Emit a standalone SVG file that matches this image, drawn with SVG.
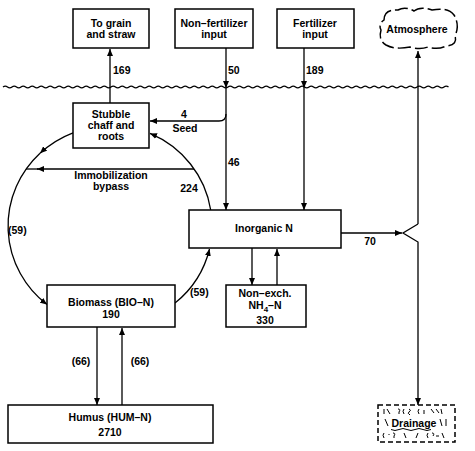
<svg xmlns="http://www.w3.org/2000/svg" width="475" height="451" viewBox="0 0 475 451">
<style>
text{font-family:"Liberation Sans",Arial,sans-serif;font-size:10.5px;font-weight:bold;fill:#000;text-anchor:middle}
.st{text-anchor:start}
.box{fill:#fff;stroke:#000;stroke-width:1.5}
.ln{fill:none;stroke:#000;stroke-width:1.3}
.ar{marker-end:url(#ah)}
.ds{fill:none;stroke:#000;stroke-width:1.5}
.mk{fill:none;stroke:#000;stroke-width:1}
</style>
<defs>
<marker id="ah" markerUnits="userSpaceOnUse" markerWidth="8" markerHeight="6" refX="7" refY="3" orient="auto">
<path d="M0,0 L7,3 L0,6 z" fill="#000"/>
</marker>
</defs>
<path id="ground" class="ln" stroke-width="1.2" d="M3 87 q2.25 -1.8 4.5 0 t4.5 0 t4.5 0 t4.5 0 t4.5 0 t4.5 0 t4.5 0 t4.5 0 t4.5 0 t4.5 0 t4.5 0 t4.5 0 t4.5 0 t4.5 0 t4.5 0 t4.5 0 t4.5 0 t4.5 0 t4.5 0 t4.5 0 t4.5 0 t4.5 0 t4.5 0 t4.5 0 t4.5 0 t4.5 0 t4.5 0 t4.5 0 t4.5 0 t4.5 0 t4.5 0 t4.5 0 t4.5 0 t4.5 0 t4.5 0 t4.5 0 t4.5 0 t4.5 0 t4.5 0 t4.5 0 t4.5 0 t4.5 0 t4.5 0 t4.5 0 t4.5 0 t4.5 0 t4.5 0 t4.5 0 t4.5 0 t4.5 0 t4.5 0 t4.5 0 t4.5 0 t4.5 0 t4.5 0 t4.5 0 t4.5 0 t4.5 0 t4.5 0 t4.5 0 t4.5 0 t4.5 0 t4.5 0 t4.5 0 t4.5 0 t4.5 0 t4.5 0 t4.5 0 t4.5 0 t4.5 0 t4.5 0 t4.5 0 t4.5 0 t4.5 0 t4.5 0 t4.5 0 t4.5 0 t4.5 0 t4.5 0 t4.5 0 t4.5 0 t4.5 0 t4.5 0 t4.5 0 t4.5 0 t4.5 0 t4.5 0 t4.5 0 t4.5 0 t4.5 0 t4.5 0 t4.5 0 t4.5 0 t4.5 0 t4.5 0 t4.5 0 t4.5 0 t4.5 0 t4.5 0"/>
<g id="connectors">
<path class="ln ar" d="M110 103 L110 49"/>
<path class="ln ar" d="M226 48 L226 88"/>
<path class="ln ar" d="M226 88 L226 210"/>
<path class="ln ar" d="M226 114 Q226 121 219 121 L150 121"/>
<path class="ln ar" d="M304 48 L304 88"/>
<path class="ln ar" d="M304 88 L304 210"/>
<path class="ln ar" d="M418 224 L418 51"/>
<path class="ln ar" d="M418 224 L403 233 L418 242 L418 405"/>
<path class="ln ar" d="M341 233 L402 233"/>
<path class="ln ar" d="M210.7 210 A102 100 0 0 0 150 133.4"/>
<path class="ln ar" d="M73 132.8 A102 100 0 0 0 40 153.3"/>
<path class="ln ar" d="M40 153.3 A102 100 0 0 0 47 304.6"/>
<path class="ln ar" d="M175 303.1 A102 100 0 0 0 209.5 249"/>
<path class="ln ar" d="M194 169 L37 169"/>
<path class="ln" d="M38 169 L26 169"/>
<path class="ln ar" d="M252 248 L252 285"/>
<path class="ln ar" d="M277 285 L277 249"/>
<path class="ln ar" d="M97 327 L97 405"/>
<path class="ln ar" d="M122 405 L122 328"/>
<text class="st" x="113" y="74">169</text>
<text class="st" x="228" y="74">50</text>
<text class="st" x="306" y="74">189</text>
<text x="184" y="118">4</text>
<text x="185" y="132">Seed</text>
<text class="st" x="228" y="166">46</text>
<text x="111" y="179">Immobilization</text>
<text x="111" y="190">bypass</text>
<text x="189" y="192">224</text>
<text class="st" x="8" y="234">(59)</text>
<text x="370" y="245">70</text>
<text class="st" x="190" y="296">(59)</text>
<text x="81" y="365">(66)</text>
<text x="140" y="365">(66)</text>
</g>
<g id="grain">
<rect class="box" x="73" y="9" width="76" height="39"/>
<text x="111" y="26.5">To grain</text>
<text x="111" y="37.5">and straw</text>
</g>
<g id="nonfert">
<rect class="box" x="175" y="9" width="78" height="39"/>
<text x="214" y="26.5">Non–fertilizer</text>
<text x="214" y="37.5">input</text>
</g>
<g id="fert">
<rect class="box" x="277" y="9" width="77" height="39"/>
<text x="315" y="26.5">Fertilizer</text>
<text x="315" y="37.5">input</text>
</g>
<g id="atmosphere">
<path class="ds" stroke-dasharray="13 4" d="M384 20 Q384 9 398 10 Q405 6 414 11 Q420 6 432 10 Q448 7 454 15 Q460 25 455 36 Q458 45 446 46 Q438 50 428 47 Q420 50 410 47 Q395 50 386 45 Q378 40 381 30 Q378 24 384 20 Z"/>
<text x="417" y="33">Atmosphere</text>
</g>
<g id="stubble">
<rect class="box" x="73" y="103" width="76" height="45"/>
<text x="111" y="118">Stubble</text>
<text x="111" y="129">chaff and</text>
<text x="111" y="140">roots</text>
</g>
<g id="inorganic">
<rect class="box" x="189" y="210" width="152" height="38"/>
<text x="264" y="232">Inorganic N</text>
</g>
<g id="nonexch">
<rect class="box" x="226" y="285" width="80" height="42"/>
<text x="265" y="297">Non–exch.</text>
<text x="265" y="309">NH<tspan font-size="8" dy="3">4</tspan><tspan dy="-3">–N</tspan></text>
<text x="265" y="324">330</text>
</g>
<g id="biomass">
<rect class="box" x="47" y="285" width="128" height="42"/>
<text x="111" y="306">Biomass (BIO–N)</text>
<text x="111" y="318">190</text>
</g>
<g id="humus">
<rect class="box" x="8" y="405" width="205" height="38"/>
<text x="110" y="421">Humus (HUM–N)</text>
<text x="110" y="436">2710</text>
</g>
<g id="drainage">
<rect class="ds" stroke-dasharray="5 3" x="378" y="405" width="77" height="37"/>
<path class="mk" d="M384 409 l0 5 M387 409 l3 5 M398 409 q3 0 1 3 l0 2 M404 409 q-2 2 0 5 M409 409 q3 1 0 3 q-2 1 1 3 M419 409 q-2 2 0 5 M424 410 l0 4 M431 409 l3 4 M436 409 l3 4 M441 409 l1 5 M385 419 l3 7 M440 419 l2 7 M446 419 l0 7 M391 429.5 q4 2 8 0 t8 0 t8 0 t8 0 t8 0 M384 433 q-2 2 0 5 M389 434 l0 1 M393 433 q3 0 1 3 l0 2 M404 433 l2 5 M418 433 l-2 5 M428 433 q-2 2 0 5 M432 433 q3 0 1 3 M436 436 l3 0 M442 433 l2 5"/>
<text x="414" y="427">Drainage</text>
</g>
</svg>
